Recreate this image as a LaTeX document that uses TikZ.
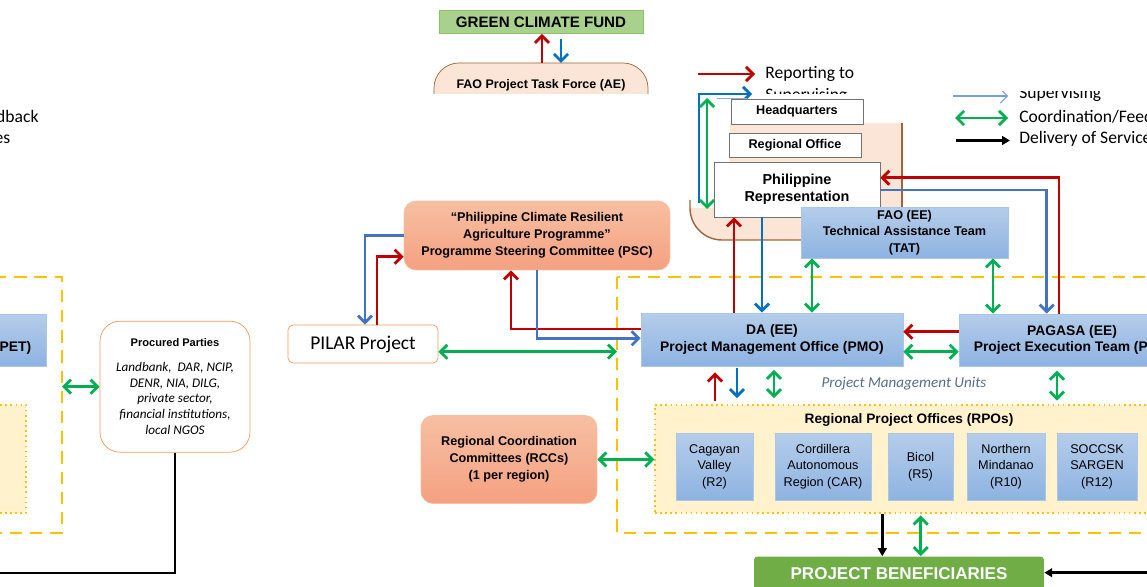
\documentclass[tikz,border=0pt]{standalone}
\usepackage{fontspec}
\setmainfont{Liberation Sans}
\newfontfamily\calfont{Carlito}
\usetikzlibrary{arrows.meta}

\definecolor{repred}{HTML}{C00000}
\definecolor{supblue}{HTML}{0070C0}
\definecolor{supblueb}{HTML}{4472C4}
\definecolor{coordgreen}{HTML}{00B050}
\definecolor{gcffill}{HTML}{A9D18E}
\definecolor{gcfline}{HTML}{8CC06C}
\definecolor{peach}{HTML}{FBE5D6}
\definecolor{peachline}{HTML}{A0643C}
\definecolor{boxtop}{HTML}{B4CDEA}
\definecolor{boxbot}{HTML}{8EB3E1}
\definecolor{boxline}{HTML}{A9C6E8}
\definecolor{psctop}{HTML}{F7BFA2}
\definecolor{pscbot}{HTML}{F4A181}
\definecolor{orangeline}{HTML}{F39A5B}
\definecolor{frameyellow}{HTML}{FFC000}
\definecolor{rpofill}{HTML}{FFF2CC}
\definecolor{benefgreen}{HTML}{70AD47}
\definecolor{pmutext}{HTML}{566D8A}

\begin{document}
\begin{tikzpicture}[x=0.02cm,y=-0.02cm,>={Straight Barb[length=4pt,width=8pt]}]
    \tikzstyle{bluebox} = [draw=boxline, top color=boxtop, bottom color=boxbot, align=center, inner sep=0pt, font=\bfseries\fontsize{7.2}{9.4}\selectfont]
    \tikzstyle{regbox} = [bluebox, font=\fontsize{7.2}{9.4}\selectfont]
    \tikzstyle{whitebox} = [draw=black!55, fill=white, align=center, inner sep=0pt, font=\bfseries\fontsize{7.2}{9.4}\selectfont]
    \tikzstyle{orangebox} = [draw=psctop, top color=psctop, bottom color=pscbot, rounded corners=0.24cm, align=center, inner sep=0pt, font=\bfseries\fontsize{7.2}{9.6}\selectfont]
    \tikzstyle{yellowframe} = [draw=frameyellow, line width=1.7pt, dash pattern=on 7pt off 4.5pt]
    \tikzstyle{rpoframe} = [draw=frameyellow, fill=rpofill, dotted, line width=0.9pt, inner sep=0pt]
    \tikzstyle{reparrow} = [draw=repred, line width=1.6pt, ->]
    \tikzstyle{suparrow} = [draw=supblue, line width=1.6pt, ->]
    \tikzstyle{suparrowb} = [draw=supblueb, line width=1.6pt, ->]
    \tikzstyle{coordarrow} = [draw=coordgreen, line width=1.6pt, <->]
    \tikzstyle{delarrow} = [draw=black, line width=1.6pt, -{Triangle[length=4.5pt,width=5pt]}]
    \tikzstyle{legtext} = [anchor=west, inner sep=0pt, font=\calfont\fontsize{10}{12}\selectfont]

    \useasboundingbox (0,0) rectangle (1147,587);
    \clip (0,0) rectangle (1147,587);

    % dashed frames of the project management units
    \draw[yellowframe] (617,277) rectangle (1201,533);
    \draw[yellowframe] (-522,277) rectangle (62,533);

    % legend
    \begin{scope}
        \clip (690,60) rectangle (900,93.5);
        \coordinate (legR1) at (698,74);
        \coordinate (legR2) at (755,74);
        \draw[reparrow] (legR1) -- (legR2);
        \node[legtext] (legRep) at (765,74) {Reporting to};
        \node[legtext] (legSup) at (765,96) {Supervising};
    \end{scope}
    \begin{scope}
        \clip (940,92) rectangle (1147,106);
        \coordinate (legS1) at (953,96);
        \coordinate (legS2) at (1008,96);
        \draw[supblueb!70, line width=0.6pt, ->] (legS1) -- (legS2);
        \node[legtext] (legSupB) at (1019,94) {Supervising};
    \end{scope}
    \coordinate (legC1) at (955,118);
    \coordinate (legC2) at (1008,118);
    \draw[coordarrow] (legC1) -- (legC2);
    \node[legtext] (legCoord) at (1019,117) {Coordination/Feedback};
    \coordinate (legD1) at (956,140.5);
    \coordinate (legD2) at (1010,140.5);
    \draw[delarrow] (legD1) -- (legD2);
    \node[legtext] (legDel) at (1019,139) {Delivery of Services};
    \node[legtext] (legCoordL) at (-129,117) {Coordination/Feedback};
    \node[legtext] (legDelL) at (-129,139) {Delivery of Services};

    % fund and accredited entity
    \draw[draw=peachline, fill=peach, rounded corners=0.5cm] (434,94) -- (434,63) -- (648,63) -- (648,94);
    \node[inner sep=0pt, font=\bfseries\fontsize{7.1}{9}\selectfont] (ae) at (541,85) {FAO Project Task Force (AE)};
    \node[draw=gcfline, fill=gcffill, minimum width=4.08cm, minimum height=0.46cm, inner sep=0pt, font=\bfseries\fontsize{8.6}{10}\selectfont] (gcf) at (541,22) {GREEN CLIMATE FUND};
    \coordinate (aeR) at (542,63);
    \coordinate (aeB) at (561,63);
    \draw[reparrow] (aeR) -- (aeR |- gcf.south);
    \draw[suparrow, shorten <=3pt] (aeB |- gcf.south) -- (aeB);

    % FAO offices
    \fill[peach] (730,123) -- (902,123) -- (902,240) -- (722,240) arc[start angle=90, end angle=180, radius=32] -- (714,208) -- (714,162) -- (730,162) -- cycle;
    \draw[peachline, line width=0.8pt] (902,123) -- (902,207);
    \draw[peachline, line width=0.8pt] (690,200) -- (690,208) arc[start angle=180, end angle=90, radius=32] -- (801,240);
    \coordinate (supL1) at (699,203);
    \coordinate (supL2) at (752,94);
    \draw[suparrow] (supL1) |- (supL2);
    \draw[supblueb!60, line width=0.5pt] (717,98.3) -- (747,98.3);
    \coordinate (hqG1) at (707,98);
    \coordinate (hqG2) at (707,209);
    \draw[coordarrow] (hqG1) -- (hqG2);
    \node[whitebox, minimum width=2.64cm, minimum height=0.5cm] (hq) at (797,111.5) {Headquarters};
    \node[whitebox, minimum width=2.64cm, minimum height=0.48cm] (ro) at (795,145) {Regional Office};
    \node[whitebox, minimum width=3.32cm, minimum height=1.1cm, font=\bfseries\fontsize{8.2}{9.7}\selectfont] (phil) at (797,189.5) {Philippine\\Representation};
    \node[bluebox, minimum width=4.14cm, minimum height=1.02cm] (tat) at (904.5,232.5) {FAO (EE)\\Technical Assistance Team\\(TAT)};

    % steering committee and PILAR
    \node[orangebox, minimum width=5.32cm, minimum height=1.38cm] (psc) at (537,235.5) {``Philippine Climate Resilient\\Agriculture Programme''\\Programme Steering Committee (PSC)};
    \node[draw=orangeline, fill=white, rounded corners=0.1cm, minimum width=3cm, minimum height=0.76cm, inner sep=0pt, font=\calfont\fontsize{11.1}{13}\selectfont] (pilar) at (363,344) {PILAR Project};

    % executing entities
    \node[bluebox, minimum width=5.24cm, minimum height=1.06cm, font=\bfseries\fontsize{7.9}{9.4}\selectfont] (pmo) at (772,339.5) {DA (EE)\\Project Management Office (PMO)};
    \node[bluebox, minimum width=4.52cm, minimum height=1.04cm, font=\bfseries\fontsize{7.9}{9.4}\selectfont] (pet) at (1072,340) {PAGASA (EE)\\Project Execution Team (PET)};
    \node[bluebox, minimum width=4.52cm, minimum height=1.04cm, font=\bfseries\fontsize{7.9}{9.4}\selectfont] (petL) at (-67,340) {PAGASA (EE)\\Project Execution Team (PET)};
    \node[font=\calfont\itshape\fontsize{8.6}{10}\selectfont, text=pmutext, inner sep=0pt] (pmu) at (904,384) {Project Management Units};

    % regional offices
    \node[rpoframe, minimum width=10.2cm, minimum height=2.16cm] (rpo) at (910,459) {};
    \node[rpoframe, minimum width=10.2cm, minimum height=2.16cm] (rpoL) at (-229,459) {};
    \node[inner sep=0pt, font=\bfseries\fontsize{7.8}{9.4}\selectfont] (rpoTitle) at (909,420) {Regional Project Offices (RPOs)};
    \node[regbox, minimum width=1.54cm, minimum height=1.34cm] (r2) at (714.5,466.5) {Cagayan\\Valley\\(R2)};
    \node[regbox, minimum width=1.92cm, minimum height=1.34cm] (car) at (823,466.5) {Cordillera\\Autonomous\\Region (CAR)};
    \node[regbox, minimum width=1.3cm, minimum height=1.34cm] (r5) at (920.5,466.5) {Bicol\\(R5)};
    \node[regbox, minimum width=1.56cm, minimum height=1.34cm] (r10) at (1006,466.5) {Northern\\Mindanao\\(R10)};
    \node[regbox, minimum width=1.6cm, minimum height=1.34cm] (r12) at (1097,466.5) {SOCCSK\\SARGEN\\(R12)};
    \node[orangebox, minimum width=3.52cm, minimum height=1.76cm] (rcc) at (509,459.5) {Regional Coordination\\Committees (RCCs)\\(1 per region)};

    % beneficiaries and procured parties
    \node[fill=benefgreen, rounded corners=2pt, minimum width=5.8cm, minimum height=0.7cm, inner sep=0pt, text=white, font=\bfseries\fontsize{9.7}{11}\selectfont] (benef) at (899,574) {PROJECT BENEFICIARIES};
    \node[draw=orangeline, fill=white, rounded corners=0.4cm, minimum width=3cm, minimum height=2.62cm, inner sep=0pt, align=center, font=\calfont\itshape\fontsize{7.5}{9}\selectfont] (procured) at (175,386.7) {{\rmfamily\upshape\bfseries\fontsize{6.3}{8}\selectfont Procured Parties}\\[5pt]Landbank,\ \ DAR, NCIP,\\DENR, NIA, DILG,\\private sector,\\financial institutions,\\local NGOS};

    % reporting and supervising lines
    \coordinate (px1) at (365,0);
    \coordinate (px2) at (377,0);
    \coordinate (py2) at (0,256.7);
    \draw[suparrowb] (psc.west) -| (px1 |- pilar.north);
    \draw[reparrow] (px2 |- pilar.north) |- (psc.west |- py2);
    \coordinate (mx1) at (511,0);
    \coordinate (my1) at (0,329);
    \coordinate (my2) at (0,338.3);
    \draw[reparrow] (pmo.west |- my1) -| (mx1 |- psc.south);
    \draw[suparrowb] (psc.south) |- (pmo.west |- my2);

    \coordinate (sx1) at (734,0);
    \coordinate (sx2) at (762,0);
    \coordinate (sx3) at (812,0);
    \coordinate (sx4) at (993,0);
    \draw[reparrow] (sx1 |- pmo.north) -- (sx1 |- phil.south);
    \draw[suparrow] (sx2 |- phil.south) -- (sx2 |- pmo.north);
    \draw[coordarrow] (sx3 |- tat.south) -- (sx3 |- pmo.north);
    \draw[coordarrow] (sx4 |- tat.south) -- (sx4 |- pet.north);

    \coordinate (qx1) at (1046.7,0);
    \coordinate (qy1) at (0,190);
    \coordinate (qx2) at (1059,0);
    \coordinate (qy2) at (0,177.7);
    \draw[suparrowb] (phil.east |- qy1) -| (qx1 |- pet.north);
    \draw[reparrow] (qx2 |- pet.north) |- (phil.east |- qy2);

    \coordinate (ry1) at (0,331.7);
    \coordinate (ry2) at (0,351.7);
    \draw[reparrow] (pet.west |- ry1) -- (pmo.east |- ry1);
    \draw[coordarrow] (pmo.east |- ry2) -- (pet.west |- ry2);

    % units and regions
    \coordinate (ux1) at (715,0);
    \coordinate (ux2) at (737,0);
    \coordinate (ux3) at (774,0);
    \coordinate (ux4) at (1057,0);
    \draw[reparrow, shorten <=2pt, shorten >=3.5pt] (ux1 |- rpo.north) -- (ux1 |- pmo.south);
    \draw[suparrow, shorten <=1pt, shorten >=3.5pt] (ux2 |- pmo.south) -- (ux2 |- rpo.north);
    \draw[coordarrow, shorten <=2pt, shorten >=3.5pt] (ux3 |- pmo.south) -- (ux3 |- rpo.north);
    \draw[coordarrow, shorten <=2.5pt, shorten >=2pt] (ux4 |- pet.south) -- (ux4 |- rpo.north);

    \coordinate (frR) at (617,351.7);
    \draw[coordarrow] (pilar.east |- frR) -- (frR);
    \draw[coordarrow] (rcc.east) -- (rcc.east -| rpo.west);
    \coordinate (frL) at (62,386.7);
    \draw[coordarrow] (frL) -- (procured.west);

    % delivery of services
    \coordinate (bx1) at (882.3,0);
    \coordinate (bx2) at (920.7,0);
    \draw[delarrow] (bx1 |- rpo.south) -- (bx1 |- benef.north);
    \draw[coordarrow, shorten <=1pt] (bx2 |- rpo.south) -- (bx2 |- benef.north);
    \coordinate (benIn) at (1165,572.7);
    \draw[delarrow] (benIn) -- (benIn -| benef.east);
    \coordinate (procOut) at (-30,573);
    \draw[black, line width=1.5pt] (procured.south) |- (procOut);
\end{tikzpicture}
\end{document}
